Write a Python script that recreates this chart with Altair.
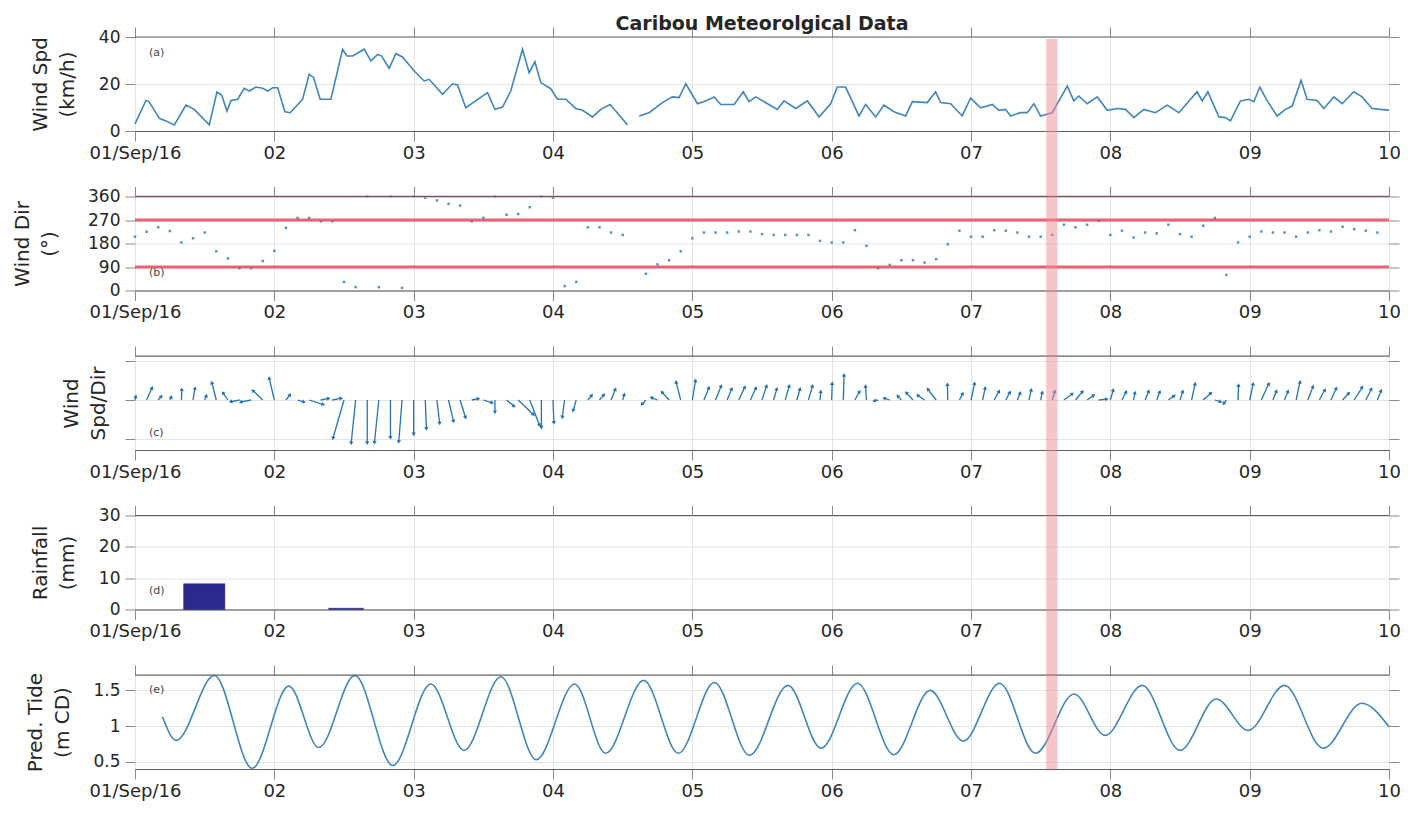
import altair as alt
import pandas as pd
import numpy as np

# ---------------- data (time = days after 01/Sep/16 00:00) ----------------
# (a) wind speed, km/h ; None marks the missing records
spd_day = [0.000, 0.079, 0.100, 0.175, 0.222, 0.282, 0.366, 0.425, 0.533, 0.588,
           0.622, 0.660, 0.689, 0.737, 0.784, 0.820, 0.868, 0.916, 0.952, 0.988,
           1.024, 1.076, 1.114, 1.203, 1.250, 1.282, 1.329, 1.406, 1.490, 1.521,
           1.562, 1.645, 1.693, 1.741, 1.770, 1.824, 1.872, 1.920, 2.004, 2.075,
           2.111, 2.207, 2.279, 2.315, 2.374, 2.530, 2.583, 2.638, 2.697, 2.781,
           2.829, 2.870, 2.912, 2.984, 3.032, 3.092, 3.163, 3.212, 3.283, 3.343,
           3.410, 3.450, 3.534, 3.580, 3.618, 3.690, 3.785, 3.857, 3.905, 3.953,
           4.037, 4.096, 4.156, 4.204, 4.300, 4.366, 4.407, 4.455, 4.610, 4.658,
           4.742, 4.826, 4.910, 4.993, 5.040, 5.100, 5.196, 5.244, 5.316, 5.375,
           5.447, 5.531, 5.579, 5.686, 5.746, 5.782, 5.854, 5.937, 5.997, 6.069,
           6.153, 6.200, 6.248, 6.284, 6.356, 6.404, 6.451, 6.499, 6.583, 6.631,
           6.691, 6.738, 6.774, 6.834, 6.906, 6.978, 7.050, 7.109, 7.169, 7.240,
           7.324, 7.408, 7.492, 7.623, 7.659, 7.700, 7.779, 7.826, 7.862, 7.934,
           7.994, 8.030, 8.073, 8.126, 8.197, 8.257, 8.305, 8.369, 8.412, 8.484,
           8.532, 8.604, 8.664, 8.747, 8.807, 8.879, 8.938, 9.000]
spd_kmh = [3.0, 13.0, 12.5, 5.4, 4.3, 2.6, 11.0, 9.2, 2.6, 16.6,
           15.3, 8.5, 13.0, 13.5, 18.2, 17.0, 18.7, 18.2, 17.0, 18.4,
           18.4, 8.2, 7.8, 13.5, 24.1, 22.7, 13.5, 13.5, 34.8, 31.9,
           31.9, 34.8, 29.8, 32.6, 31.9, 26.7, 32.9, 31.5, 25.5, 21.3,
           22.0, 15.6, 20.1, 19.6, 9.9, 16.3, 9.2, 10.2, 17.0, 34.8,
           24.8, 29.5, 20.6, 18.0, 13.5, 13.5, 9.6, 8.8, 6.0, 9.2,
           11.3, 8.5, 2.6, None, 6.4, 7.8, 12.1, 14.5, 14.2, 20.1,
           11.6, 12.8, 14.5, 11.3, 11.3, 16.7, 12.5, 14.5, 9.2, 12.8,
           9.6, 12.8, 6.0, 11.6, 18.7, 18.7, 6.4, 11.3, 6.0, 11.0,
           8.2, 6.4, 12.5, 12.1, 16.7, 12.1, 11.6, 6.4, 14.0, 9.9,
           11.3, 8.8, 9.2, 6.4, 7.8, 7.8, 11.6, 6.4, 7.8, 12.8,
           19.1, 12.8, 14.9, 11.6, 14.5, 8.8, 9.6, 9.2, 5.7, 9.2,
           7.8, 11.0, 7.8, 16.7, 12.8, 16.7, 6.0, 5.7, 4.3, 12.8,
           13.5, 12.5, 18.7, 12.8, 6.4, 9.2, 10.6, 21.6, 13.5, 13.0,
           9.6, 14.5, 11.6, 16.7, 14.5, 9.6, 9.2, 8.9]

# (b)/(c) wind direction (deg, from) and speed (km/h) every 2 hours
dir_hour = list(range(0, 216, 2))
dir_deg = [206, 225, 242, 228, 184, 200, 222, 150, 123, 85, 85, 113,
           152, 240, 278, 278, 265, 265, 33, 13, 360, 13, 360, 10,
           360, 355, 345, 332, 325, 265, 278, 360, 290, 293, 319, 360,
           355, 17, 33, 242, 242, 222, 213, None, 64, 100, 116, 150,
           200, 222, 222, 222, 226, 226, 216, 213, 213, 213, 213, 190,
           184, 184, 231, 171, 85, 98, 116, 116, 107, 120, 177, 229,
           206, 206, 231, 229, 222, 206, 206, 213, 252, 242, 252, 267,
           213, 229, 203, 222, 219, 252, 216, 206, 248, 278, 60, 184,
           206, 226, 222, 222, 206, 222, 231, 226, 244, 235, 229, 222]
quiv_kmh = [3, 13, 6, 3.5, 8, 9.5, 4.5, 15, 10, 15, 17.5, 18.2,
            18.4, 8, 11, 24, 13.5, 15, 34, 33, 32, 32.5, 28, 31.5,
            25.5, 21.5, 18, 18, 16, 11.5, 15, 9.2, 13.5, 28, 25, 20.5,
            17, 13.5, 9.5, 7.5, 8.5, 11, 5, None, 7.5, 10.5, 13.5, 15.5,
            15.5, 12.5, 14, 11.3, 14, 13, 13, 10, 12.5, 9.9, 12.5, 6.5,
            12.5, 18.7, 10, 10.5, 7, 9.5, 7, 12.5, 12.2, 16.2, 11.7, 7.5,
            13.8, 10, 10.5, 9, 7.2, 8.5, 6.4, 7.8, 15, 13.5, 11.6, 13.7,
            9, 9.4, 6, 9, 8, 10.5, 8, 13.5, 14, 10, 5.5, 11,
            13.4, 17.5, 9, 8.8, 15, 13.5, 12, 12.5, 11.8, 16.6, 12.5, 9.4]

# (d) rainfall bars
rain_start = [0.349, 1.390]
rain_end = [0.645, 1.640]
rain_mm = [8.2, 0.4]

# (e) predicted tide, turning points (m CD)
tide_day = [0.197, 0.296, 0.569, 0.841, 1.104, 1.319, 1.578, 1.850, 2.123, 2.362,
            2.626, 2.880, 3.155, 3.378, 3.651, 3.900, 4.158, 4.410, 4.686, 4.924,
            5.185, 5.446, 5.707, 5.944, 6.205, 6.463, 6.740, 6.962, 7.229, 7.500,
            7.760, 7.990, 8.250, 8.527, 8.805, 9.000]
tide_m = [1.13, 0.80, 1.71, 0.41, 1.56, 0.70, 1.71, 0.45, 1.59, 0.66,
          1.69, 0.53, 1.59, 0.62, 1.64, 0.62, 1.61, 0.59, 1.57, 0.69,
          1.60, 0.60, 1.50, 0.79, 1.60, 0.62, 1.45, 0.87, 1.57, 0.66,
          1.38, 0.94, 1.57, 0.69, 1.32, 0.99]

# highlighted event (red band)
event_start = [6.54]
event_end = [6.62]

panel_tags = ["(a)", "(b)", "(c)", "(d)", "(e)"]
day_ticks = list(range(10))

# ---------------- tables ----------------
spd = pd.DataFrame({"t": spd_day, "v": spd_kmh})
spd["seg"] = spd["v"].isna().cumsum()
spd = spd.dropna()

wd = pd.DataFrame({"t": [h / 24 for h in dir_hour], "d": dir_deg, "s": quiv_kmh}).dropna()
PX_DAY = 1254 / 9.0
PX_KMH_Y = 1.35   # vertical pixels per km/h in panel (c)
PX_KMH_X = 0.6    # horizontal pixels per km/h in panel (c)
rad = np.deg2rad(wd["d"].astype(float))
wd["u"] = -wd["s"] * np.sin(rad)
wd["v"] = -wd["s"] * np.cos(rad)
wd["t2"] = wd["t"] + wd["u"] * PX_KMH_X / PX_DAY
wd["y0"] = 0.0
wd["ang"] = (np.degrees(np.arctan2(wd["u"] * PX_KMH_X, wd["v"] * PX_KMH_Y)) + 360) % 360

rain = pd.DataFrame({"a": rain_start, "b": rain_end, "mm": rain_mm})
tide = pd.DataFrame({"t": tide_day, "m": tide_m})
event = pd.DataFrame({"a": event_start, "b": event_end})
one = pd.DataFrame({"k": [0]})

# ---------------- styling ----------------
W, H, GAP = 1254, 94, 65.5
FONT = "DejaVu Sans"
BLUE = "#3f86bf"
TXT = "#262626"
TICK = "#8a8a8a"

xs = alt.Scale(domain=[0, 9], nice=False, zero=False)
label_expr = ("datum.value == 0 ? '01/Sep/16' : (datum.value < 9 ? '0' + (datum.value + 1) : '10')")


def xaxis():
    return alt.Axis(values=day_ticks, labelExpr=label_expr, title=None, grid=True,
                    gridColor="#e4e4e4", tickSize=10, tickColor=TICK,
                    domainColor="#606060", labelFont=FONT, labelFontSize=18,
                    labelColor=TXT, labelPadding=3, labelFlush=False,
                    labelOverlap=False)


def xaxis_top():
    return alt.Axis(values=day_ticks, orient="top", labels=False, title=None,
                    grid=False, tickSize=10, tickColor=TICK, domain=False)


def yaxis(title, values, tpad, fmt=None, labels=True):
    kw = dict(title=title, values=values, grid=True, gridColor="#e4e4e4",
              tickSize=10, tickColor=TICK, domain=False, labels=labels,
              labelFont=FONT, labelFontSize=17, labelColor=TXT, labelPadding=5,
              labelOverlap=False,
              titleFont=FONT, titleFontSize=20, titleFontWeight="normal",
              titleColor=TXT, titlePadding=tpad, titleLineHeight=27)
    if fmt:
        kw["format"] = fmt
    return alt.Axis(**kw)


def yaxis_right(values):
    return alt.Axis(values=values, orient="right", labels=False, title=None,
                    grid=False, tickSize=10, tickColor=TICK, domain=False)


def extras(idx, ghost_df, xf, yf, yscale, yvals, last=False):
    band_bottom = H if last else H + GAP
    band_top = 2 if idx == 0 else 0
    band = alt.Chart(event).mark_rect(color="#f08a8f", opacity=0.5).encode(
        x=alt.X("a:Q", scale=xs, axis=None), x2="b:Q",
        y=alt.value(band_top), y2=alt.value(band_bottom))
    top = alt.Chart(one).mark_rule(color="#606060", strokeWidth=1).encode(
        x=alt.value(0), x2=alt.value(W), y=alt.value(0))
    tag = alt.Chart(pd.DataFrame({"lab": [panel_tags[idx]]})).mark_text(
        font=FONT, fontSize=11, color="#444", align="left", baseline="middle").encode(
        x=alt.value(14), y=alt.value(TAG_Y[idx]), text="lab:N")
    ghost = alt.Chart(ghost_df).mark_point(opacity=0).encode(
        x=alt.X(xf, scale=xs, axis=xaxis_top()),
        y=alt.Y(yf, scale=yscale, axis=yaxis_right(yvals)))
    return [ghost, top, tag, band]


TAG_Y = [16, 76, 77, 75, 15]

# (a) wind speed
ys_a = alt.Scale(domain=[0, 40], nice=False)
a_line = alt.Chart(spd).mark_line(color=BLUE, strokeWidth=1.6).encode(
    x=alt.X("t:Q", scale=xs, axis=xaxis()),
    y=alt.Y("v:Q", scale=ys_a, axis=yaxis(["Wind Spd", "(km/h)"], [0, 20, 40], 21)),
    detail="seg:N")
panel_a = alt.layer(a_line, *extras(0, spd, "t:Q", "v:Q", ys_a, [0, 20, 40])).resolve_axis(
    x="independent", y="independent").properties(
    width=W, height=H,
    title=alt.TitleParams("Caribou Meteorolgical Data", font=FONT, fontSize=19,
                          fontWeight="bold", color=TXT, anchor="middle", offset=-7,
                          frame="group"))

# (b) wind direction
ys_b = alt.Scale(domain=[0, 360], nice=False)
b_refs = alt.Chart(pd.DataFrame({"y": [90, 270]})).mark_rule(
    color="#e8475f", strokeWidth=3, opacity=0.85).encode(y=alt.Y("y:Q", scale=ys_b, axis=None))
b_top = alt.Chart(pd.DataFrame({"y": [360]})).mark_rule(
    color="#f2a0aa", strokeWidth=3, opacity=0.5).encode(y=alt.Y("y:Q", scale=ys_b, axis=None))
b_pts = alt.Chart(wd).mark_point(shape="square", filled=True, size=6, color=BLUE, opacity=0.9).encode(
    x=alt.X("t:Q", scale=xs, axis=xaxis()),
    y=alt.Y("d:Q", scale=ys_b, axis=yaxis(["Wind Dir", "(°)"], [0, 90, 180, 270, 360], 28)))
panel_b = alt.layer(b_pts, b_refs, b_top,
                    *extras(1, wd, "t:Q", "d:Q", ys_b, [0, 90, 180, 270, 360])).resolve_axis(
    x="independent", y="independent").properties(width=W, height=H)

# (c) wind vectors
ys_c = alt.Scale(domain=[-50 / PX_KMH_Y, 44 / PX_KMH_Y], nice=False, zero=False)
c_ticks = [-39 / PX_KMH_Y, 0, 39 / PX_KMH_Y]
c_shaft = alt.Chart(wd).mark_rule(color="#2373b3", strokeWidth=1.3).encode(
    x=alt.X("t:Q", scale=xs, axis=xaxis()), x2="t2:Q",
    y=alt.Y("y0:Q", scale=ys_c, axis=yaxis(["Wind", "Spd/Dir"], c_ticks, 16, labels=False)),
    y2="v:Q")
c_head = alt.Chart(wd).mark_point(shape="triangle-up", filled=True, size=18,
                                  color="#2373b3", opacity=1).encode(
    x=alt.X("t2:Q", scale=xs, axis=None), y=alt.Y("v:Q", scale=ys_c, axis=None),
    angle=alt.Angle("ang:Q", scale=None))
panel_c = alt.layer(c_shaft, c_head, *extras(2, wd, "t:Q", "y0:Q", ys_c, c_ticks)).resolve_axis(
    x="independent", y="independent").properties(width=W, height=H)

# (d) rainfall
ys_d = alt.Scale(domain=[0, 30], nice=False)
d_bar = alt.Chart(rain).mark_rect(color="#2b2a8c", stroke="#1c1b6e", strokeWidth=0.5).encode(
    x=alt.X("a:Q", scale=xs, axis=xaxis()), x2="b:Q",
    y=alt.Y("mm:Q", scale=ys_d, axis=yaxis(["Rainfall", "(mm)"], [0, 10, 20, 30], 21)),
    y2=alt.datum(0))
panel_d = alt.layer(d_bar, *extras(3, rain, "a:Q", "mm:Q", ys_d, [0, 10, 20, 30])).resolve_axis(
    x="independent", y="independent").properties(width=W, height=H)

# (e) tide
ys_e = alt.Scale(domain=[0.4, 1.715], nice=False, zero=False)
e_line = alt.Chart(tide).mark_line(color=BLUE, strokeWidth=1.6, interpolate="monotone").encode(
    x=alt.X("t:Q", scale=xs, axis=xaxis()),
    y=alt.Y("m:Q", scale=ys_e, axis=yaxis(["Pred. Tide", "(m CD)"], [0.5, 1, 1.5], 20, fmt="~g")))
panel_e = alt.layer(e_line, *extras(4, tide, "t:Q", "m:Q", ys_e, [0.5, 1, 1.5], last=True)).resolve_axis(
    x="independent", y="independent").properties(width=W, height=H)

chart = alt.vconcat(panel_a, panel_b, panel_c, panel_d, panel_e,
                    spacing=GAP, bounds="flush").configure_view(
    stroke="#b8b8b8", strokeWidth=1).properties(
    padding={"left": 12, "top": 14, "right": 5, "bottom": 5},
    background="white")

chart.save("out.html", embed_options={"renderer": "svg", "actions": False})
